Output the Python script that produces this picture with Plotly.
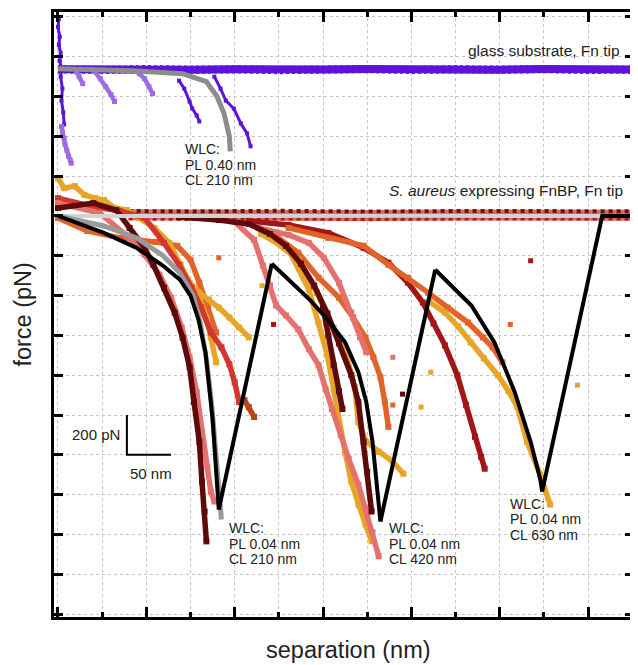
import plotly.graph_objects as go

# ---------------- data (x: separation in nm, y: force in pN) ----------------
# glass substrate, Fn tip
glass_base_x = [0, 50, 100, 150, 200, 250, 300, 350, 400, 450, 500, 550, 600, 652]
glass_base_y = [737, 734, 738, 735, 737, 733, 736, 738, 734, 737, 735, 738, 734, 736]
glass_dark_left_x = [1, 0, 2, 1, 3, 2, 4, 3, 5, 4, 6, 7]
glass_dark_left_y = [990, 950, 900, 860, 820, 780, 740, 700, 640, 580, 520, 460]
glass_light_left_x = [4, 5, 7, 8, 10, 12, 14, 15]
glass_light_left_y = [450, 420, 390, 360, 330, 300, 280, 265]
glass_light_saw_x = [21, 24, 28, None, 42, 48, 54, 60, 64, None, 92, 98, 103, 107]
glass_light_saw_y = [725, 700, 665, None, 725, 690, 650, 610, 575, None, 715, 690, 650, 615]
glass_drop1_x = [137, 143, 149, 152, 157, 160]
glass_drop1_y = [680, 640, 575, 540, 505, 475]
glass_drop2_x = [177, 184, 190, 199, 207, 214, 218]
glass_drop2_y = [700, 640, 580, 540, 465, 415, 350]
glass_wlc_x = [0, 84, 141, 168, 180, 188, 194, 195]
glass_wlc_y = [740, 730, 715, 675, 600, 515, 400, 325]

# S. aureus expressing FnBP, Fn tip
sa_base_x = [0, 100, 200, 300, 400, 500, 600, 652]
sa_base_y = [0, 1, -1, 0, 1, 0, -1, 0]
sa_band_x = [80, 150, 250, 350, 450, 550, 652]
sa_band_y = [6, 3, 6, 2, 5, 3, 4]
sa_band_top_y = [25, 23, 26, 22, 25, 23, 24]
sa_band_low_y = [-13, -15, -12, -16, -13, -14, -12]

golden1_x = [0, 7, 19, 30, 42, 52, 64, 78, 92, 109, 126, 139, 149, 160, 171, 182, 194, 205, 216]
golden1_y = [190, 140, 150, 105, 90, 80, 40, 30, -10, -60, -135, -245, -335, -385, -420, -460, -510, -560, -610]
golden1a_x = [160, 168, 173, 179]
golden1a_y = [-410, -510, -610, -735]
red1_x = [0, 36, 70, 98, 120, 137, 151, 162, 173, 185, 194, 200, 205]
red1_y = [90, 50, 25, -10, -135, -245, -360, -460, -585, -660, -745, -835, -935]
brown1_x = [211, 216, 222]
brown1_y = [-925, -960, -1010]
orange0_x = [0, 33, 70, 110, 135, 150, 160, 170, 179]
orange0_y = [-10, -75, -110, -130, -150, -220, -335, -460, -585]
maroon1_x = [0, 40, 66, 81, 98, 108, 120, 132, 141, 149, 154, 160, 163, 166, 168]
maroon1_y = [40, 65, 30, -60, -160, -245, -360, -485, -610, -760, -935, -1135, -1335, -1485, -1635]
pink1_x = [0, 47, 81, 98, 115, 128, 140, 149, 157, 163, 169, 173, 177]
pink1_y = [65, 15, -110, -195, -295, -410, -560, -710, -885, -1085, -1260, -1385, -1435]

maroon2_x = [137, 182, 216, 240, 258, 275, 290, 305, 318, 332, 340, 346, 350, 355]
maroon2_y = [-5, -20, -40, -90, -150, -240, -350, -490, -640, -800, -935, -1135, -1285, -1485]
maroon2b_x = [300, 306, 312, 318, 322]
maroon2b_y = [-460, -600, -750, -880, -970]
pink2_x = [200, 222, 232, 240, 247, 258, 272, 284, 295, 303, 310, 320, 329, 340, 348, 356, 363]
pink2_y = [-30, -120, -250, -350, -450, -500, -570, -670, -750, -870, -970, -1100, -1220, -1350, -1470, -1590, -1710]
pink3_x = [227, 261, 284, 301, 318, 332, 342, 349]
pink3_y = [-60, -95, -135, -210, -335, -485, -610, -685]
golden2_x = [230, 261, 284, 295, 305, 312, 318, 325, 332, 340, 348, 355]
golden2_y = [-90, -170, -370, -535, -700, -870, -1035, -1185, -1335, -1450, -1550, -1635]
golden2b_x = [233, 256, 272, 293, 312, 327, 336, 340, 349, 363, 379, 391]
golden2b_y = [-85, -160, -220, -385, -560, -710, -860, -1035, -1135, -1185, -1235, -1295]
orange1_x = [239, 272, 295, 318, 334, 348, 357, 365, 370, 374]
orange1_y = [-75, -185, -310, -410, -510, -610, -710, -810, -935, -1060]
darkred2_x = [216, 261, 306, 346, 374, 396, 413, 425, 438, 452, 462, 472, 479, 483]
darkred2_y = [-25, -45, -85, -160, -235, -335, -435, -540, -650, -800, -950, -1110, -1210, -1270]
orange2_x = [261, 306, 346, 374, 396, 419, 441, 464, 481, 492, 503]
orange2_y = [-60, -110, -150, -245, -310, -385, -460, -535, -610, -660, -735]
golden3_x = [420, 438, 453, 467, 482, 498, 510, 520, 531, 546, 557]
golden3_y = [-430, -485, -555, -635, -715, -800, -880, -960, -1135, -1300, -1450]

stray_x = [535, 512, 588, 422, 244, 379, 411, 379, 390, 182, 231]
stray_y = [-225, -545, -850, -785, -545, -710, -960, -950, -895, -210, -350]

# WLC fits
wlc_gray_x = [0, 52, 89, 119, 138, 153, 161, 168, 174, 180, 185]
wlc_gray_y = [0, -50, -110, -200, -285, -400, -535, -720, -950, -1250, -1525]
wlc1_x = [0, 52, 89, 119, 138, 150, 159, 167, 175, 179, 182]
wlc1_y = [0, -85, -160, -250, -320, -400, -520, -685, -1020, -1285, -1475]
wlc2_x = [242, 272, 286, 306, 325, 340, 349, 356, 361, 365]
wlc2_y = [-240, -370, -425, -525, -635, -785, -935, -1135, -1335, -1535]
wlc3_x = [427, 457, 468, 494, 517, 535, 546, 548]
wlc3_y = [-270, -400, -450, -635, -885, -1135, -1325, -1385]
ramp_x = [182, 242, None, 365, 427, None, 548, 616, 652]
ramp_y = [-1475, -240, None, -1535, -270, None, -1385, 0, 0]

# scale bar (200 pN, 50 nm)
bar_x = [78, 78, 128]
bar_y = [-1000, -1200, -1200]

# labels
wlc_labels = [
    (142, ["WLC:", "PL 0.40 nm", "CL 210 nm"], [335, 257, 179]),
    (191, ["WLC:", "PL 0.04 nm", "CL 210 nm"], [-1570, -1648, -1726]),
    (372, ["WLC:", "PL 0.04 nm", "CL 420 nm"], [-1570, -1648, -1726]),
    (509, ["WLC:", "PL 0.04 nm", "CL 630 nm"], [-1445, -1523, -1601]),
]

# ---------------- styles ----------------
C_PURPLE = "#5b14d8"
C_LAV = "#9a6ee2"
C_GOLD = "#e8a426"
C_RED = "#d2362f"
C_DKRED = "#a31616"
C_MAROON = "#5e0a0a"
C_PINK = "#e4716e"
C_ORANGE = "#e2632a"
C_BROWN = "#b4461a"

fig = go.Figure()


def curve(x, y, color, width=5.5, msize=6, mode="lines+markers", dash=None, opacity=1.0):
    fig.add_trace(go.Scatter(
        x=x, y=y, mode=mode, opacity=opacity,
        line=dict(color=color, width=width, dash=dash),
        marker=dict(symbol="square", size=msize, color=color),
        hoverinfo="skip", showlegend=False, connectgaps=False))


# glass group
curve(glass_base_x, glass_base_y, C_PURPLE, width=8, mode="lines")
curve(glass_base_x, [v + 13 for v in glass_base_y], C_PURPLE, width=3, mode="lines", dash="dot")
curve(glass_base_x, [v - 13 for v in glass_base_y], C_PURPLE, width=3, mode="lines", dash="dot")
curve(glass_dark_left_x, glass_dark_left_y, C_PURPLE, width=3, msize=4)
curve(glass_light_left_x, glass_light_left_y, C_LAV, width=4.5, msize=5)
curve(glass_light_saw_x, glass_light_saw_y, C_LAV, width=4.5, msize=5)
curve(glass_drop1_x, glass_drop1_y, C_PURPLE, width=3, msize=4)
curve(glass_drop2_x, glass_drop2_y, C_PURPLE, width=3, msize=4)

# S. aureus baseline band
curve(sa_band_x, sa_band_y, C_RED, width=11, mode="lines", opacity=0.75)
curve(sa_band_x, sa_band_top_y, C_MAROON, width=4, mode="lines", dash="dot", opacity=0.9)
curve(sa_band_x, sa_band_low_y, C_DKRED, width=4, mode="lines", dash="dot", opacity=0.9)

# retraction curves
curve(orange0_x, orange0_y, C_ORANGE)
curve(golden1_x, golden1_y, C_GOLD)
curve(golden1a_x, golden1a_y, C_GOLD)
curve(red1_x, red1_y, C_RED)
curve(brown1_x, brown1_y, C_BROWN)
curve(pink1_x, pink1_y, C_PINK)
curve(maroon1_x, maroon1_y, C_MAROON)
curve(darkred2_x, darkred2_y, C_DKRED)
curve(orange2_x, orange2_y, C_ORANGE)
curve(golden3_x, golden3_y, C_GOLD)
curve(orange1_x, orange1_y, C_ORANGE)
curve(golden2b_x, golden2b_y, C_GOLD)
curve(pink3_x, pink3_y, C_PINK)
curve(golden2_x, golden2_y, C_GOLD)
curve(pink2_x, pink2_y, C_PINK)
curve(maroon2_x, maroon2_y, C_MAROON)
curve(maroon2b_x, maroon2b_y, C_MAROON)

stray_colors = [C_DKRED, C_ORANGE, C_GOLD, C_GOLD, C_DKRED, C_PINK, C_GOLD, C_ORANGE, C_MAROON, C_ORANGE, C_GOLD]
fig.add_trace(go.Scatter(x=stray_x, y=stray_y, mode="markers",
                         marker=dict(symbol="square", size=5, color=stray_colors),
                         hoverinfo="skip", showlegend=False))

# approach baseline (light gray)
curve(sa_base_x, sa_base_y, "#d2d2d2", width=4, mode="lines")

# WLC fits
curve(glass_wlc_x, glass_wlc_y, "#8c8c8c", width=5, mode="lines")
curve(wlc_gray_x, wlc_gray_y, "#9a9a9a", width=5, mode="lines")
curve(wlc1_x, wlc1_y, "#000000", width=4, mode="lines")
curve(wlc2_x, wlc2_y, "#000000", width=4, mode="lines")
curve(wlc3_x, wlc3_y, "#000000", width=4, mode="lines")
curve(ramp_x, ramp_y, "#000000", width=4, mode="lines")

# scale bar
curve(bar_x, bar_y, "#000000", width=2, mode="lines")

FONT = "Liberation Sans, Arial, sans-serif"
TXT = "#222222"

ann = []
for x0, lines, ys in wlc_labels:
    for t, yy in zip(lines, ys):
        ann.append(dict(x=x0, y=yy, text=t, showarrow=False, xanchor="left", yanchor="middle",
                        font=dict(family=FONT, size=14, color=TXT)))
ann.append(dict(x=638, y=830, text="glass substrate, Fn tip", showarrow=False,
                xanchor="right", yanchor="middle", font=dict(family=FONT, size=15.5, color=TXT)))
ann.append(dict(x=642, y=130, text="<i>S. aureus</i> expressing FnBP, Fn tip", showarrow=False,
                xanchor="right", yanchor="middle", font=dict(family=FONT, size=15.5, color=TXT)))
ann.append(dict(x=73, y=-1100, text="200 pN", showarrow=False, xanchor="right", yanchor="middle",
                font=dict(family=FONT, size=15, color=TXT)))
ann.append(dict(x=105, y=-1295, text="50 nm", showarrow=False, xanchor="center", yanchor="middle",
                font=dict(family=FONT, size=15, color=TXT)))
ann.append(dict(xref="paper", yref="paper", x=0.507, y=-0.054, text="separation (nm)", showarrow=False,
                xanchor="center", yanchor="middle", font=dict(family=FONT, size=23.5, color=TXT)))
ann.append(dict(xref="paper", yref="paper", x=-0.055, y=0.5, text="force (pN)", showarrow=False,
                textangle=-90, xanchor="center", yanchor="middle",
                font=dict(family=FONT, size=23.5, color=TXT)))

grid = dict(gridcolor="#c4c4c4", griddash="dot", gridwidth=1)

# The page body has an 8 px default margin, so the figure is sized and
# its margins are reduced accordingly to land the plot area at the same place.
fig.update_layout(
    width=630, height=657,
    margin=dict(l=46, r=1, t=1, b=48),
    paper_bgcolor="white", plot_bgcolor="white",
    annotations=ann,
    xaxis=dict(range=[-4.5, 652], tick0=0, dtick=100, showticklabels=False,
               ticks="inside", ticklen=10, tickwidth=2.5, tickcolor="black",
               showline=True, linecolor="black", linewidth=2.5, mirror="allticks",
               zeroline=False, showgrid=True, **grid,
               minor=dict(dtick=50, ticks="inside", ticklen=5, tickwidth=2.5, tickcolor="black",
                          showgrid=True, gridcolor="#c4c4c4", griddash="dot", gridwidth=1)),
    yaxis=dict(range=[-2015, 1025], tick0=0, dtick=200, showticklabels=False,
               ticks="inside", ticklen=9, tickwidth=2.5, tickcolor="black",
               showline=True, linecolor="black", linewidth=2.5, mirror="allticks",
               zeroline=False, showgrid=True, **grid),
)

fig.write_html("out.html")
